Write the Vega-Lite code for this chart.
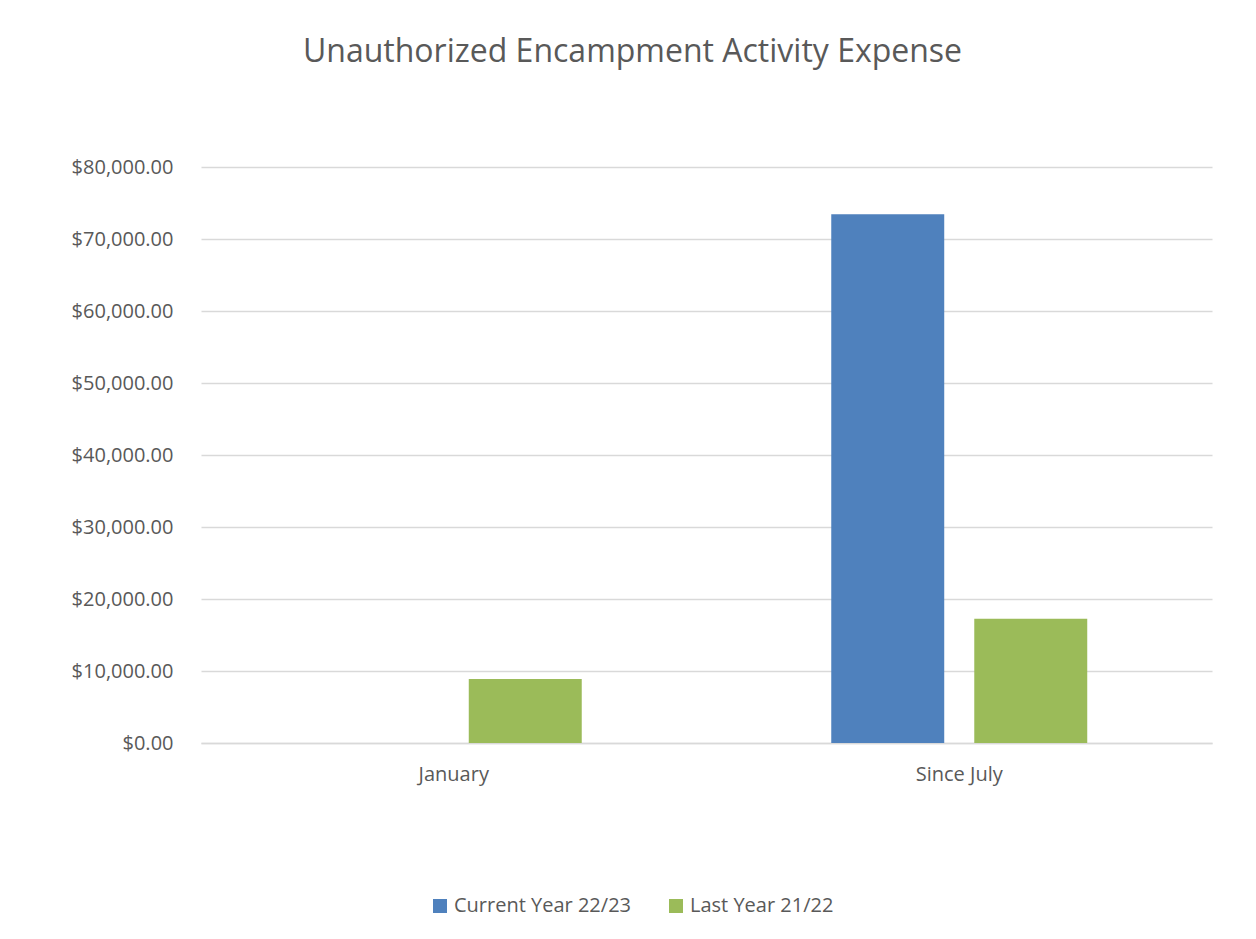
{
  "$schema": "https://vega.github.io/schema/vega-lite/v6.json",
  "autosize": "none",
  "width": 1011,
  "height": 576,
  "padding": {"left": 201, "top": 167, "right": 44, "bottom": 196},
  "background": "white",
  "title": {
    "text": "Unauthorized Encampment Activity Expense",
    "font": "Open Sans",
    "fontSize": 32,
    "fontWeight": "normal",
    "color": "#595959",
    "anchor": "middle",
    "dx": -74,
    "offset": 88
  },
  "data": {
    "values": [
      {"period": "January", "series": "Current Year 22/23", "amount": 0},
      {"period": "January", "series": "Last Year 21/22", "amount": 8900},
      {"period": "Since July", "series": "Current Year 22/23", "amount": 73450},
      {"period": "Since July", "series": "Last Year 21/22", "amount": 17250}
    ]
  },
  "mark": {"type": "bar"},
  "encoding": {
    "x": {
      "field": "period",
      "type": "nominal",
      "sort": ["January", "Since July"],
      "scale": {"paddingInner": 0.4936, "paddingOuter": 0.2468},
      "axis": {
        "title": null,
        "labelAngle": 0,
        "labelFont": "Open Sans",
        "labelFontSize": 20,
        "labelColor": "#595959",
        "labelPadding": 21,
        "ticks": false,
        "domainColor": "#d9d9d9",
        "domainWidth": 1.5
      }
    },
    "xOffset": {
      "field": "series",
      "type": "nominal",
      "sort": ["Current Year 22/23", "Last Year 21/22"],
      "scale": {"paddingInner": 0.21, "paddingOuter": 0}
    },
    "y": {
      "field": "amount",
      "type": "quantitative",
      "scale": {"domain": [0, 80000], "nice": false},
      "axis": {
        "title": null,
        "values": [0, 10000, 20000, 30000, 40000, 50000, 60000, 70000, 80000],
        "labelExpr": "'$' + format(datum.value, ',.2f')",
        "labelFont": "Open Sans",
        "labelFontSize": 20,
        "labelColor": "#595959",
        "labelPadding": 28,
        "ticks": false,
        "domain": false,
        "gridColor": "#d9d9d9",
        "gridWidth": 1.5
      }
    },
    "color": {
      "field": "series",
      "type": "nominal",
      "sort": ["Current Year 22/23", "Last Year 21/22"],
      "scale": {"range": ["#4f81bd", "#9bbb59"]},
      "legend": {
        "title": null,
        "orient": "none",
        "legendX": 229,
        "legendY": 729,
        "direction": "horizontal",
        "symbolType": "square",
        "symbolSize": 196,
        "symbolStrokeWidth": 0,
        "labelFont": "Open Sans",
        "labelFontSize": 20,
        "labelColor": "#595959",
        "labelOffset": 4,
        "labelLimit": 400,
        "columnPadding": 34
      }
    }
  },
  "config": {"view": {"stroke": null}}
}
